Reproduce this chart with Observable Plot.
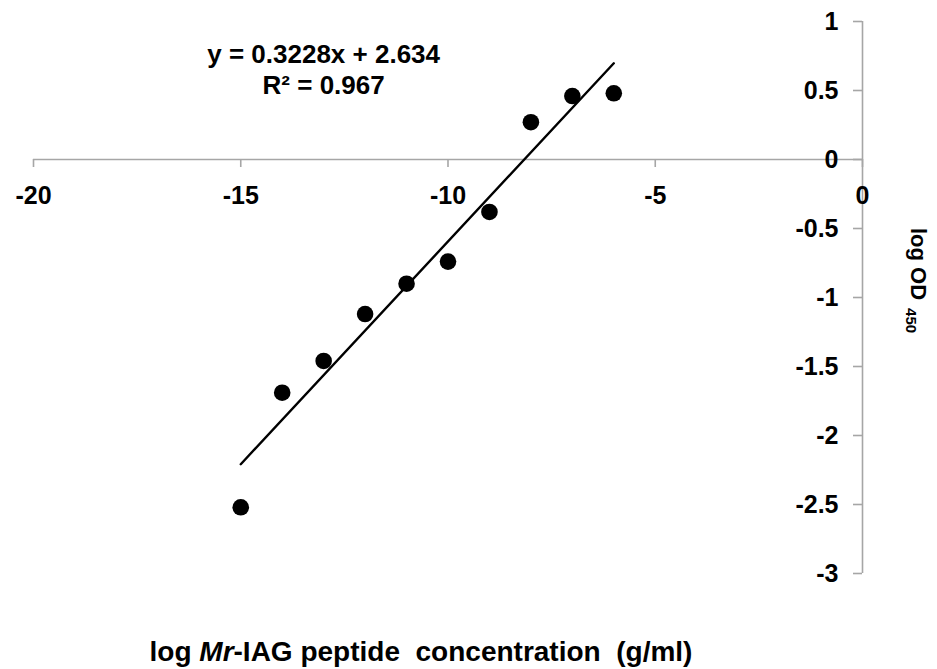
<!DOCTYPE html>
<html>
<head>
<meta charset="utf-8">
<script src="https://cdn.jsdelivr.net/npm/d3@7"></script>
<script src="https://cdn.jsdelivr.net/npm/@observablehq/plot@0.6"></script>
<style>
  body { margin: 0; background: #fff; }
  #chart { width: 937px; height: 669px; }
</style>
</head>
<body>
<div id="chart"></div>
<script>
// Standard curve: log peptide concentration vs log OD450
const logConc = [-15, -14, -13, -12, -11, -10, -9, -8, -7, -6];
const logOD = [-2.52, -1.69, -1.46, -1.12, -0.90, -0.74, -0.38, 0.27, 0.46, 0.48];

const xTicks = [-20, -15, -10, -5, 0];
const yTicks = [1, 0.5, 0, -0.5, -1, -1.5, -2, -2.5, -3];

// Linear trendline as reported on the chart
const slope = 0.3228;
const intercept = 2.634;
const rSquared = 0.967;
const fitRange = [-15, -6];

const points = logConc.map((x, i) => ({x, y: logOD[i]}));
const fit = fitRange.map(x => ({x, y: slope * x + intercept}));

const W = 937, H = 669;
const mL = 33, mR = 75, mT = 21, mB = 96;
const xDomain = [-20, 0], yDomain = [-3, 1];
const xPx = d3.scaleLinear().domain(xDomain).range([mL, W - mR]);
const yPx = d3.scaleLinear().domain(yDomain).range([H - mB, mT]);

const font = "'Liberation Sans', Arial, Helvetica, sans-serif";
const axisGray = "#a6a6a6";
const fmt = d => String(d);

const plot = Plot.plot({
  width: W,
  height: H,
  marginLeft: mL,
  marginRight: mR,
  marginTop: mT,
  marginBottom: mB,
  style: {fontFamily: font, fontWeight: "bold", fontSize: "25px", color: "#000", background: "#fff", overflow: "visible"},
  x: {domain: xDomain},
  y: {domain: yDomain},
  marks: [
    // axis lines crossing at the origin
    Plot.ruleY([0], {stroke: axisGray, strokeWidth: 1.6}),
    Plot.ruleX([0], {stroke: axisGray, strokeWidth: 1.6}),
    Plot.axisX({
      anchor: "bottom", ticks: xTicks, tickFormat: fmt, tickSize: 8, tickPadding: 19,
      dy: yPx(0) - yPx(yDomain[0]), label: null, stroke: axisGray, strokeWidth: 1.6, fontSize: 25
    }),
    Plot.axisY({
      anchor: "left", ticks: yTicks, tickFormat: fmt, tickSize: 9, tickPadding: 15,
      dx: xPx(0) - xPx(xDomain[0]), label: null, stroke: axisGray, strokeWidth: 1.6, fontSize: 25
    }),
    Plot.line(fit, {x: "x", y: "y", stroke: "#000", strokeWidth: 2.4}),
    Plot.dot(points, {x: "x", y: "y", r: 8.3, fill: "#000", stroke: "none"}),
    Plot.text([`y = ${slope}x + ${intercept}\nR² = ${rSquared}`], {
      x: -13, y: 0.66, lineHeight: 1.22, fontSize: 26, fontWeight: "bold", fill: "#000"
    })
  ]
});

const svg = d3.select(plot);

// horizontal axis title
const xt = svg.append("text")
  .attr("x", 421).attr("y", 661)
  .attr("text-anchor", "middle")
  .attr("font-size", 28).attr("font-weight", "bold").attr("fill", "#000")
  .attr("xml:space", "preserve");
xt.append("tspan").text("log ");
xt.append("tspan").attr("font-style", "italic").text("Mr");
xt.append("tspan").text("-IAG peptide  concentration  (g/ml)");

// vertical axis title, reading downward, with subscript
const yt = svg.append("text")
  .attr("transform", "translate(911,228) rotate(90)")
  .attr("text-anchor", "start")
  .attr("font-size", 22).attr("font-weight", "bold").attr("fill", "#000");
yt.append("tspan").text("log OD");
yt.append("tspan").attr("font-size", 15).attr("dx", 8).attr("dy", 5).text("450");

document.getElementById("chart").appendChild(plot);
</script>
</body>
</html>
